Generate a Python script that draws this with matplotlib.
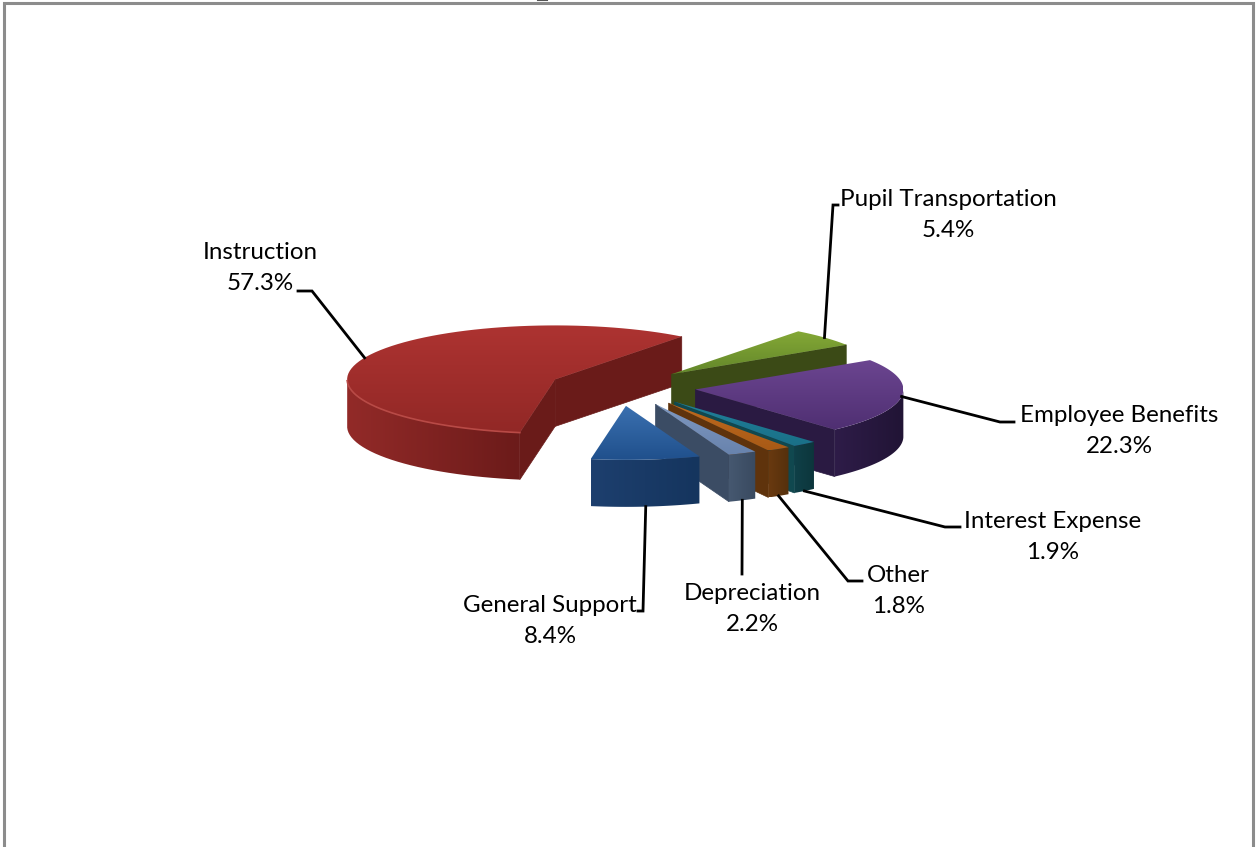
import numpy as np
from matplotlib import pyplot as plt
from matplotlib.colors import LinearSegmentedColormap
from matplotlib.patches import Polygon, Rectangle

# chart values (percent), in drawing order round the pie
labels = ["Instruction", "General Support", "Depreciation", "Other",
          "Interest Expense", "Employee Benefits", "Pupil Transportation"]
shares = [57.3, 8.4, 2.2, 1.8, 1.9, 22.3, 5.4]

# top light, top dark, wall light, wall dark, cut face
colors = [
    ("#AD3331", "#922826", "#922A28", "#6C1B1A", "#6A1B19"),
    ("#3A70B0", "#20508C", "#1D3F6E", "#15355E", "#1A3A66"),
    ("#7F98C0", "#6883AD", "#465870", "#394A60", "#3B4C64"),
    ("#C06A1E", "#A85A16", "#6A3A10", "#55300C", "#5F330C"),
    ("#20809A", "#1A7088", "#0F4048", "#0C363C", "#10484F"),
    ("#6B4590", "#4F2F72", "#2E1C48", "#211435", "#2A1A42"),
    ("#84A836", "#63872A", "#3E5017", "#3E5017", "#3B4A16"),
]

# text centre of each label, and where its leader line bends
label_pos = [(260, 268), (550, 621), (752, 609), (898, 591),
             (1053, 537), (1119, 431), (948, 215)]
elbows = [[(312, 291), (298, 291)], [(643, 611), (638, 611)], [(742, 574)],
          [(848, 581), (862, 581)], [(945, 527), (960, 527)],
          [(1000, 422), (1014, 422)], [(833, 205), (838, 205)]]
# small sideways nudge per slice, the original has some perspective
nudge = [0, -3, 3, 8, 7, 1, -4]

cx, cy = 622, 387      # pie centre
rx, ry = 208, 54       # ellipse of the top face
explode = 73
depth = 47
start = 52.5


def point(t, r=1.0):
    t = np.radians(t)
    return cx + r * rx * np.cos(t), cy - r * ry * np.sin(t)


def grad_fill(ax, verts, c0, c1, z, vertical=True):
    # gradient image clipped to a polygon
    verts = np.array(verts)
    x0, y0 = verts.min(axis=0)
    x1, y1 = verts.max(axis=0)
    g = np.linspace(0, 1, 64)
    g = g[:, None] if vertical else g[None, :]
    cmap = LinearSegmentedColormap.from_list("g", [c0, c1])
    im = ax.imshow(g, cmap=cmap, extent=(x0, x1, y1, y0), origin="upper",
                   aspect="auto", zorder=z, interpolation="bilinear")
    poly = Polygon(verts, closed=True, fc="none", ec="none", transform=ax.transData)
    ax.add_patch(poly)
    im.set_clip_path(poly)


def draw_slice(ax, i, t0, t1, z):
    mid = (t0 + t1) / 2
    ox = explode * np.cos(np.radians(mid)) + nudge[i]
    oy = -explode * ry / rx * np.sin(np.radians(mid))
    apex = (cx + ox, cy + oy)
    tops = np.linspace(t0, t1, 80)
    arc = [(point(t)[0] + ox, point(t)[1] + oy) for t in tops]
    top_l, top_d, wall_l, wall_d, face = colors[i]
    # cut faces that look towards the viewer
    for t, normal, edge in ((t0, t0 - 90, arc[0]), (t1, t1 + 90, arc[-1])):
        if np.sin(np.radians(normal)) < 0:
            quad = [apex, edge, (edge[0], edge[1] + depth), (apex[0], apex[1] + depth)]
            ax.add_patch(Polygon(quad, closed=True, fc=face, ec=face, lw=0.5, zorder=z))
    # outer wall, front half only
    front = [(x, y) for t, (x, y) in zip(tops, arc) if np.sin(np.radians(t)) <= 0]
    if len(front) > 1:
        wall = front + [(x, y + depth) for x, y in front[::-1]]
        grad_fill(ax, wall, wall_l, wall_d, z + 0.1, vertical=False)
        if i == 0:
            ax.plot(*zip(*front), color="#B84A46", lw=1.2, zorder=z + 0.3)
    grad_fill(ax, [apex] + arc, top_l, top_d, z + 0.2)


def leader_start(i, t0, t1):
    mid = (t0 + t1) / 2
    x, y = point(mid, (rx + explode) / rx)
    if np.sin(np.radians(mid)) < -0.5:
        y += depth
    return x + nudge[i], y


plt.rcParams["font.family"] = ["Lato", "DejaVu Sans"]
fig = plt.figure(figsize=(12.57, 8.47), dpi=100)
ax = fig.add_axes([0, 0, 1, 1])
ax.set_xlim(0, 1257)
ax.set_ylim(847, 0)
ax.axis("off")

# chart frame, cut off at the bottom of the picture
ax.add_patch(Rectangle((4, 3), 1249, 860, fc="white", ec="#8C8C8C", lw=2.2, zorder=1))
ax.plot([538, 547], [0.5, 0.5], color="#555555", lw=1.5, zorder=2)

angles = start + np.cumsum([0] + shares) / sum(shares) * 360
order = [0] + list(range(len(shares) - 1, 0, -1))
for z, i in enumerate(order):
    draw_slice(ax, i, angles[i], angles[i + 1], 5 + z)

for i, name in enumerate(labels):
    path = [leader_start(i, angles[i], angles[i + 1])] + elbows[i]
    ax.plot(*zip(*path), color="black", lw=2, zorder=20, solid_joinstyle="miter")
    ax.text(*label_pos[i], f"{name}\n{shares[i]}%", ha="center", va="center",
            fontsize=17.4, linespacing=1.6, color="black", zorder=21)

fig.savefig("out.png", dpi=100)
